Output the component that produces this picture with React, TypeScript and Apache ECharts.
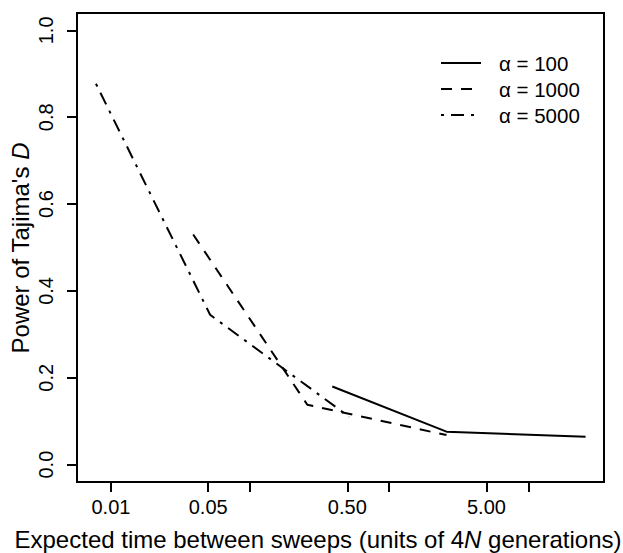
import React, { useEffect, useRef } from "react";
import * as echarts from "echarts";

const seriesNames = ["α = 100", "α = 1000", "α = 5000"];
const x100 = [0.39, 2.58, 25.8];
const y100 = [0.18, 0.076, 0.064];
const x1000 = [0.039, 0.258, 2.58];
const y1000 = [0.53, 0.138, 0.068];
const x5000 = [0.0078, 0.0516, 0.516];
const y5000 = [0.877, 0.345, 0.11];
const xTicks = [0.01, 0.05, 0.1, 0.5, 1, 5, 10];
const xTickLabels = [0.01, 0.05, 0.5, 5];
const yTicks = [0, 0.2, 0.4, 0.6, 0.8, 1.0];

const FONT = "'Liberation Sans', Arial, Helvetica, sans-serif";

function pairs(xs: number[], ys: number[]) {
  return xs.map((x, i) => [x, ys[i]]);
}

export default function App() {
  const ref = useRef<HTMLDivElement>(null);
  useEffect(() => {
    if (!ref.current) return;
    const chart = echarts.init(ref.current, undefined, { renderer: "svg" });
    const lw = 2;
    chart.setOption({
      animation: false,
      backgroundColor: "#fff",
      grid: {
        left: 77,
        right: 19,
        top: 13,
        bottom: 71,
        show: true,
        borderColor: "#000",
        borderWidth: 2,
        backgroundColor: "transparent",
      },
      xAxis: {
        type: "log",
        logBase: 10,
        min: 0.0057,
        max: 35,
        axisLine: { show: false, onZero: false },
        splitLine: { show: false },
        minorTick: { show: false },
        axisTick: {
          show: true,
          length: 10,
          inside: false,
          customValues: xTicks,
          lineStyle: { color: "#000", width: 2 },
        },
        axisLabel: {
          customValues: xTickLabels,
          formatter: (v: number) => Number(v).toFixed(2),
          fontSize: 20,
          fontFamily: FONT,
          color: "#000",
          margin: 15,
        },
      },
      yAxis: {
        type: "value",
        min: -0.04,
        max: 1.04,
        axisLine: { show: false, onZero: false },
        splitLine: { show: false },
        axisTick: {
          show: true,
          length: 10,
          customValues: yTicks,
          lineStyle: { color: "#000", width: 2 },
        },
        axisLabel: {
          customValues: yTicks,
          formatter: (v: number) => Number(v).toFixed(1),
          rotate: 90,
          fontSize: 20,
          fontFamily: FONT,
          color: "#000",
          margin: 21,
        },
      },
      legend: {
        orient: "vertical",
        left: 440,
        top: 52,
        padding: 0,
        itemWidth: 40,
        itemHeight: 14,
        itemGap: 4,
        itemStyle: { opacity: 0 },
        textStyle: {
          fontSize: 20.5,
          lineHeight: 22,
          fontFamily: FONT,
          color: "#000",
          padding: [0, 0, 0, 13],
        },
        data: seriesNames,
      },
      graphic: [
        {
          type: "text",
          x: 318,
          y: 539,
          style: {
            text: "Expected time between sweeps (units of 4{i|N} generations)",
            fontSize: 24,
            fontFamily: FONT,
            fill: "#000",
            align: "center",
            verticalAlign: "middle",
            rich: {
              i: { fontSize: 24, fontFamily: FONT, fontStyle: "italic", fill: "#000" },
            },
          },
        },
        {
          type: "text",
          x: 20,
          y: 248,
          rotation: Math.PI / 2,
          style: {
            text: "Power of Tajima's {i|D}",
            fontSize: 24,
            fontFamily: FONT,
            fill: "#000",
            align: "center",
            verticalAlign: "middle",
            rich: {
              i: { fontSize: 24, fontFamily: FONT, fontStyle: "italic", fill: "#000" },
            },
          },
        },
      ],
      series: [
        {
          name: seriesNames[0],
          type: "line",
          symbol: "none",
          data: pairs(x100, y100),
          lineStyle: { color: "#000", width: lw, type: "solid" },
          itemStyle: { color: "#000" },
        },
        {
          name: seriesNames[1],
          type: "line",
          symbol: "none",
          data: pairs(x1000, y1000),
          lineStyle: { color: "#000", width: lw, type: [11, 9] },
          itemStyle: { color: "#000" },
        },
        {
          name: seriesNames[2],
          type: "line",
          symbol: "none",
          data: pairs(x5000, y5000),
          lineStyle: { color: "#000", width: lw, type: [3, 7, 13, 7] },
          itemStyle: { color: "#000" },
        },
      ],
    });
    return () => chart.dispose();
  }, []);
  return (
    <div
      ref={ref}
      style={{ position: "fixed", left: 0, top: 0, width: 623, height: 553, background: "#fff" }}
    />
  );
}
